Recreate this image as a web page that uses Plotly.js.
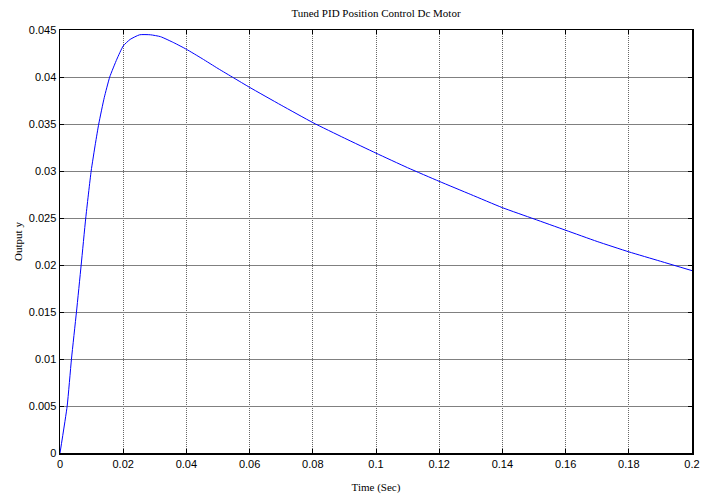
<!DOCTYPE html>
<html>
<head>
<meta charset="utf-8">
<script src="https://cdn.plot.ly/plotly-3.0.1.min.js"></script>
<style>html,body{margin:0;padding:0;background:#fff;}#chart{width:712px;height:500px;}</style>
</head>
<body>
<div id="chart"></div>
<script>
const chartTitle = "Tuned PID Position Control Dc Motor";
const xLabel = "Time (Sec)";
const yLabel = "Output y";

const timeSec = [0, 0.00227, 0.00363, 0.00521, 0.0067, 0.00815, 0.00986, 0.0112, 0.01226, 0.014, 0.01574, 0.018, 0.02, 0.0222, 0.0252, 0.0286, 0.0318, 0.036, 0.04, 0.045, 0.05, 0.055, 0.06, 0.07, 0.08, 0.09, 0.10, 0.11, 0.12, 0.13, 0.14, 0.15, 0.16, 0.17, 0.18, 0.19, 0.2];
const outputY = [0, 0.005, 0.01, 0.015, 0.02, 0.025, 0.03, 0.0329, 0.035, 0.0378, 0.04, 0.0419, 0.0433, 0.0440, 0.04449, 0.04449, 0.04429, 0.04365, 0.04295, 0.04195, 0.0409, 0.0399, 0.0389, 0.0370, 0.03515, 0.0335, 0.0319, 0.03035, 0.0289, 0.0275, 0.0261, 0.0249, 0.0237, 0.0225, 0.0214, 0.0204, 0.0194];

const xTicks = [0, 0.02, 0.04, 0.06, 0.08, 0.1, 0.12, 0.14, 0.16, 0.18, 0.2];
const xTickText = ["0", "0.02", "0.04", "0.06", "0.08", "0.1", "0.12", "0.14", "0.16", "0.18", "0.2"];
const yTicks = [0, 0.005, 0.01, 0.015, 0.02, 0.025, 0.03, 0.035, 0.04, 0.045];
const yTickText = ["0", "0.005", "0.01", "0.015", "0.02", "0.025", "0.03", "0.035", "0.04", "0.045"];

const trace = {
  x: timeSec,
  y: outputY,
  type: "scatter",
  mode: "lines",
  line: {color: "#0000ff", width: 1, shape: "spline", smoothing: 0.5},
  hoverinfo: "skip"
};

const tickFont = {family: "Liberation Sans, Arial, sans-serif", size: 11, color: "#000"};
const serif = {family: "Liberation Serif, Times New Roman, serif", size: 11, color: "#000"};

const layout = {
  width: 712,
  height: 500,
  margin: {l: 60, r: 20, t: 30, b: 47, pad: 0},
  paper_bgcolor: "#fff",
  plot_bgcolor: "#fff",
  showlegend: false,
  title: {text: chartTitle, font: serif, xref: "paper", x: 0.5, xanchor: "center", yref: "container", y: 0.974, yanchor: "middle"},
  xaxis: {
    range: [0, 0.2],
    tickmode: "array",
    tickvals: xTicks,
    ticktext: xTickText,
    ticks: "inside",
    ticklen: 4,
    tickcolor: "#000",
    tickfont: tickFont,
    showline: true,
    linecolor: "#000",
    linewidth: 1.5,
    mirror: "ticks",
    showgrid: true,
    gridcolor: "#666",
    gridwidth: 1,
    griddash: "1px,1px",
    zeroline: false,
    automargin: false,
    title: {text: xLabel, font: serif, standoff: 14}
  },
  yaxis: {
    range: [0, 0.045],
    tickmode: "array",
    tickvals: yTicks,
    ticktext: yTickText,
    ticks: "inside",
    ticklen: 4,
    tickcolor: "#000",
    tickfont: tickFont,
    showline: true,
    linecolor: "#000",
    linewidth: 1.5,
    mirror: "ticks",
    showgrid: true,
    gridcolor: "#808080",
    gridwidth: 1,
    zeroline: false,
    automargin: false,
    title: {text: yLabel, font: serif, standoff: 4}
  }
};

Plotly.newPlot("chart", [trace], layout, {staticPlot: true, displayModeBar: false});
</script>
</body>
</html>
